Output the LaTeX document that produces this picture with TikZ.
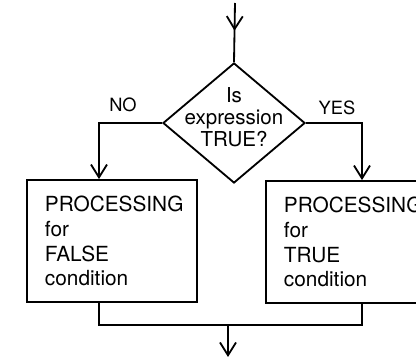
\documentclass[tikz,border=0pt]{standalone}
\usepackage{fontspec}
\setmainfont{TeX Gyre Heros}
\usetikzlibrary{arrows.meta,shapes.geometric,decorations.markings}

\begin{document}
\begin{tikzpicture}[x=0.025cm, y=-0.025cm, line width=1.3pt,
  procbox/.style={draw, rectangle, minimum width=4.25cm, minimum height=3.05cm, text width=3.35cm, inner xsep=0.45cm, align=left, font=\fontsize{14.8}{17.7}\selectfont},
  decision/.style={draw, diamond, minimum width=3.55cm, minimum height=3.0cm, inner sep=0pt},
  qtext/.style={align=center, font=\fontsize{14.6}{15.6}\selectfont},
  lbl/.style={font=\fontsize{13}{15}\selectfont},
  arr/.style={-{Straight Barb[length=3.2mm,width=4mm]}},
  midarr/.style={postaction={decorate}, decoration={markings, mark=at position #1 with {\arrow{Straight Barb[length=3.2mm,width=4mm]}}}}
]
\path[use as bounding box, clip] (0,0) rectangle (416,360);

% decision
\node[decision] (dec) at (234,123) {};
\node[qtext] (question) at (234,117) {Is\\expression\\TRUE?};
\node[lbl] (nolbl) at (123,105) {NO};
\node[lbl] (yeslbl) at (337,108) {YES};

% the two branches
\node[procbox] (falsebox) at (112,241) {PROCESSING\\for\\FALSE\\condition};
\node[procbox] (truebox) at (351,242) {PROCESSING\\for\\TRUE\\condition};

\coordinate (in) at (235,3);
\coordinate (nocorner) at (99,123);
\coordinate (yescorner) at (362,123);
\coordinate (joinl) at (99,325);
\coordinate (joinr) at (362,325);
\coordinate (merge) at (228,325);
\coordinate (exit) at (228,357);

\draw[midarr=0.47] (in) -- (dec.north);
\draw[arr] (dec.west) -- (nocorner) -- (nocorner |- falsebox.north);
\draw[arr] (dec.east) -- (yescorner) -- (yescorner |- truebox.north);
\draw (nocorner |- falsebox.south) -- (joinl) -- (joinr) -- (yescorner |- truebox.south);
\draw[arr] (merge) -- (exit);

\end{tikzpicture}
\end{document}
